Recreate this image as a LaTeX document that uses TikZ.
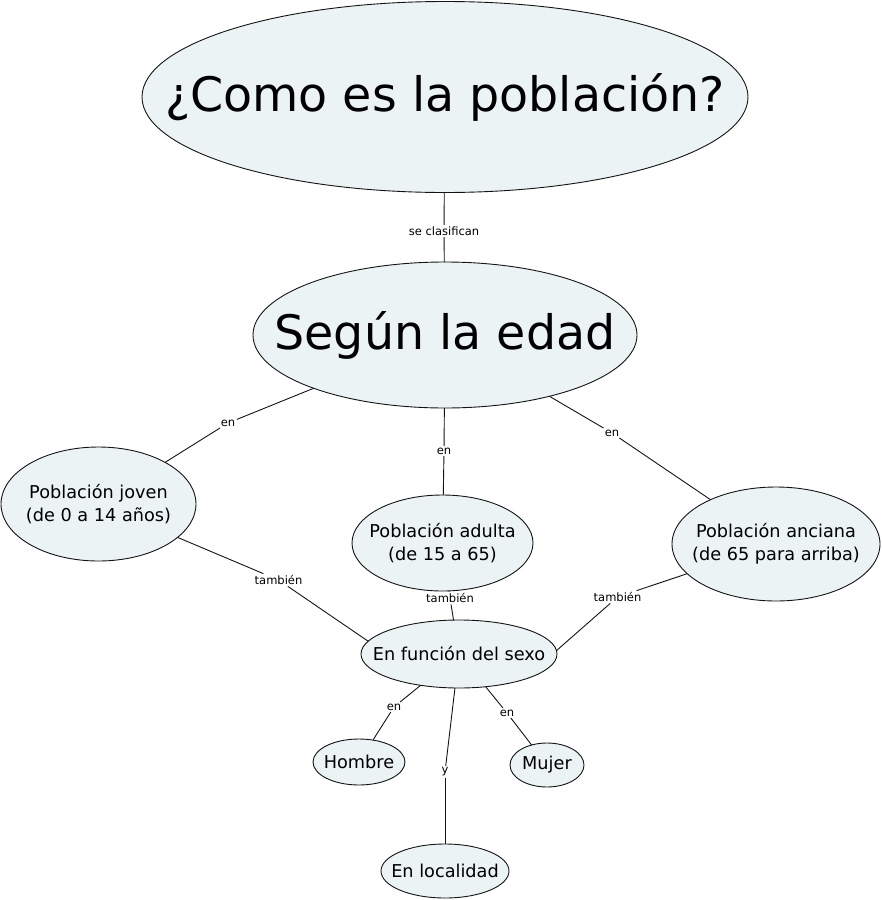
\documentclass[tikz,border=0pt]{standalone}
\usepackage{fontspec}
\setmainfont{DejaVu Sans}
\usetikzlibrary{shapes.geometric}
\definecolor{cfill}{RGB}{235,243,245}
\definecolor{cline}{RGB}{20,20,20}
\tikzset{
  concept/.style={ellipse, draw=cline, line width=0.9pt, fill=cfill, inner sep=0pt, outer sep=0pt},
  bigtxt/.style={font=\fontsize{47.5}{57}\selectfont, align=center, inner sep=0pt, text=black},
  midtxt/.style={font=\fontsize{17.7}{22.5}\selectfont, align=center, inner sep=0pt, text=black},
  lbl/.style={inner sep=1.5pt, font=\fontsize{11.5}{13}\selectfont, text=black},
  link/.style={draw=cline, line width=0.9pt}
}
\begin{document}
\begin{tikzpicture}[x=1pt,y=-1pt]
\useasboundingbox (0,0) rectangle (882,900);
% concepts
\node[concept, minimum width=606pt, minimum height=191pt, label={[bigtxt]center:¿Como es la población?}] (titulo) at (445,97) {};
\node[concept, minimum width=384pt, minimum height=146pt, label={[bigtxt]center:Según la edad}] (segun) at (445,335) {};
\node[concept, minimum width=195pt, minimum height=114pt, label={[midtxt]center:Población joven\\(de 0 a 14 años)}] (joven) at (98.5,504) {};
\node[concept, minimum width=181pt, minimum height=96pt, label={[midtxt]center:Población adulta\\(de 15 a 65)}] (adulta) at (442.5,543) {};
\node[concept, minimum width=208pt, minimum height=114pt, label={[midtxt]center:Población anciana\\(de 65 para arriba)}] (anciana) at (776,544) {};
\node[concept, minimum width=196pt, minimum height=68pt, label={[midtxt]center:En función del sexo}] (sexo) at (459,654) {};
\node[concept, minimum width=92pt, minimum height=46pt, label={[midtxt]center:Hombre}] (hombre) at (359,762) {};
\node[concept, minimum width=74pt, minimum height=44pt, label={[midtxt]center:Mujer}] (mujer) at (547,765) {};
\node[concept, minimum width=128pt, minimum height=54pt, label={[midtxt]center:En localidad}] (local) at (445,871) {};
% labels
\node[lbl] (l1) at (444,231) {se clasifican};
\node[lbl] (l2) at (228,423) {en};
\node[lbl] (l3) at (444,451) {en};
\node[lbl] (l4) at (612,433) {en};
\node[lbl] (l5) at (278.5,580) {también};
\node[lbl] (l6) at (450,598) {también};
\node[lbl] (l7) at (617.5,597) {también};
\node[lbl] (l8) at (394,707) {en};
\node[lbl] (l9) at (507,713) {en};
\node[lbl] (l10) at (445,772) {y};
% connectors
\draw[link] (titulo) -- (l1); \draw[link] (l1) -- (segun);
\draw[link] (segun) -- (l2); \draw[link] (l2) -- (joven);
\draw[link] (segun) -- (l3); \draw[link] (l3) -- (adulta);
\draw[link] (segun) -- (l4); \draw[link] (l4) -- (anciana);
\draw[link] (joven) -- (l5); \draw[link] (l5) -- (sexo.172);
\draw[link] (adulta) -- (l6); \draw[link] (l6) -- (sexo);
\draw[link] (anciana) -- (l7); \draw[link] (l7) -- (sexo.2);
\draw[link] (sexo) -- (l8); \draw[link] (l8) -- (hombre);
\draw[link] (sexo) -- (l9); \draw[link] (l9) -- (mujer);
\draw[link] (sexo) -- (l10); \draw[link] (l10) -- (local);
\end{tikzpicture}
\end{document}
